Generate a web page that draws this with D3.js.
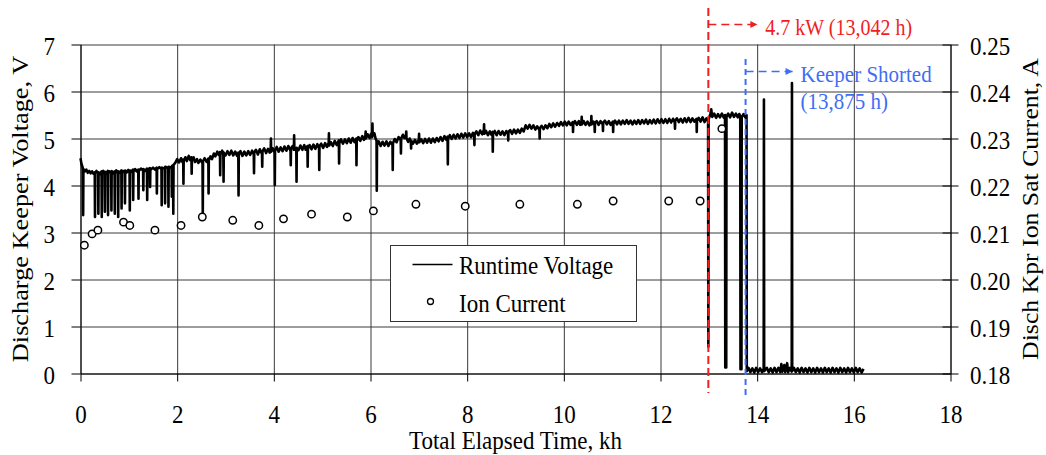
<!DOCTYPE html>
<html>
<head>
<meta charset="utf-8">
<script src="https://cdn.jsdelivr.net/npm/d3@7"></script>
<style>
body { margin: 0; background: #fff; }
text { font-family: "Liberation Serif", "Times New Roman", serif; }
</style>
</head>
<body>
<svg id="chart" width="1046" height="455"></svg>
<script>
"use strict";

/*global d3*/

// ---- data ----
var timeTicks = [0, 2, 4, 6, 8, 10, 12, 14, 16, 18],
    voltTicks = [0, 1, 2, 3, 4, 5, 6, 7],
    currentTicks = [0.18, 0.19, 0.20, 0.21, 0.22, 0.23, 0.24, 0.25];

// runtime keeper voltage, [kh, V]
var runtimeVoltage = [
    [0.00,4.58],[0.02,4.46],[0.04,4.40],[0.05,4.36],[0.055,3.37],[0.06,4.35],[0.09,4.30],[0.12,4.34],
    [0.15,4.27],[0.18,4.31],[0.21,4.26],[0.24,4.30],[0.27,4.25],[0.295,4.28],[0.30,3.33],[0.305,4.27],
    [0.33,4.31],[0.365,4.26],[0.37,3.40],[0.375,4.28],[0.40,4.24],[0.435,4.30],[0.44,3.33],[0.445,4.26],
    [0.47,4.31],[0.50,4.25],[0.505,3.44],[0.51,4.29],[0.54,4.26],[0.565,4.31],[0.57,3.37],[0.575,4.25],
    [0.60,4.30],[0.635,4.27],[0.64,3.47],[0.645,4.31],[0.67,4.26],[0.705,4.30],[0.71,3.40],[0.715,4.27],
    [0.74,4.32],[0.775,4.26],[0.78,3.33],[0.785,4.30],[0.81,4.27],[0.845,4.32],[0.85,3.51],[0.855,4.28],
    [0.88,4.31],[0.915,4.27],[0.92,3.62],[0.925,4.32],[0.96,4.28],[0.99,4.33],[1.015,4.29],[1.02,3.47],
    [1.025,4.32],[1.05,4.29],[1.085,4.34],[1.09,3.69],[1.095,4.30],[1.13,4.35],[1.16,4.30],[1.195,4.34],
    [1.20,3.72],[1.205,4.31],[1.25,4.36],[1.295,4.32],[1.30,3.90],[1.305,4.35],[1.34,4.31],[1.375,4.36],
    [1.38,3.69],[1.385,4.33],[1.435,4.37],[1.44,3.97],[1.445,4.33],[1.50,4.38],[1.54,4.34],[1.575,4.38],
    [1.58,3.83],[1.585,4.35],[1.63,4.39],[1.675,4.35],[1.68,3.58],[1.685,4.38],[1.745,4.36],[1.75,3.62],
    [1.755,4.40],[1.815,4.37],[1.82,3.55],[1.825,4.40],[1.885,4.38],[1.89,3.76],[1.895,4.42],[1.915,4.40],
    [1.92,3.40],[1.925,4.44],[1.96,4.48],
    [2.00,4.56],[2.04,4.49],[2.08,4.58],[2.11,4.50],[2.125,4.55],[2.13,4.04],[2.135,4.52],[2.17,4.60],
    [2.20,4.52],[2.24,4.63],[2.27,4.54],[2.295,4.60],[2.30,4.25],[2.305,4.56],[2.34,4.60],[2.37,4.50],
    [2.41,4.56],[2.44,4.48],[2.48,4.55],[2.525,4.47],[2.53,3.40],[2.535,4.52],
    [2.57,4.58],[2.61,4.50],[2.645,4.57],[2.65,3.83],[2.655,4.54],[2.69,4.62],[2.72,4.56],[2.76,4.68],
    [2.79,4.62],[2.83,4.72],[2.86,4.65],[2.885,4.71],[2.89,4.22],[2.895,4.66],[2.93,4.74],[2.955,4.66],
    [2.96,4.08],[2.965,4.70],
    [3.00,4.64],[3.04,4.73],[3.08,4.65],[3.12,4.74],[3.16,4.64],[3.20,4.72],[3.24,4.63],[3.265,4.70],
    [3.27,3.79],[3.275,4.66],[3.31,4.73],[3.35,4.63],[3.39,4.72],[3.43,4.64],[3.47,4.73],[3.51,4.65],
    [3.55,4.74],[3.585,4.66],[3.59,4.26],[3.595,4.70],[3.63,4.76],[3.67,4.66],[3.71,4.77],[3.755,4.67],
    [3.76,4.40],[3.765,4.72],[3.80,4.79],[3.84,4.69],[3.88,4.78],[3.915,4.70],[3.935,4.76],[3.94,5.00],
    [3.945,4.72],[3.98,4.79],[4.015,4.70],[4.02,4.01],[4.025,4.74],
    [4.06,4.82],[4.10,4.72],[4.14,4.81],[4.18,4.73],[4.22,4.83],[4.26,4.74],[4.30,4.84],[4.345,4.74],
    [4.35,4.43],[4.355,4.79],[4.39,4.84],[4.415,4.76],[4.42,5.07],[4.425,4.78],[4.465,4.74],[4.47,4.08],
    [4.475,4.80],[4.51,4.75],[4.55,4.85],[4.59,4.76],[4.63,4.86],[4.66,4.76],[4.695,4.84],[4.70,4.40],
    [4.705,4.78],[4.74,4.86],[4.78,4.77],[4.82,4.87],[4.86,4.78],[4.90,4.88],[4.935,4.79],[4.94,4.33],
    [4.945,4.84],[4.98,4.89],
    [5.02,4.80],[5.06,4.90],[5.10,4.82],[5.135,4.91],[5.14,5.11],[5.145,4.85],[5.18,4.92],[5.22,4.84],
    [5.26,4.95],[5.30,4.86],[5.345,4.96],[5.35,4.47],[5.355,4.90],[5.39,4.98],[5.43,4.89],[5.47,4.98],
    [5.51,4.90],[5.55,5.00],[5.59,4.91],[5.63,5.01],[5.67,4.92],[5.705,5.00],[5.71,4.43],[5.715,4.94],
    [5.75,5.03],[5.79,4.95],[5.83,5.05],[5.865,4.97],[5.895,5.06],[5.90,5.15],[5.905,5.00],[5.94,5.09],
    [5.98,5.01],[6.01,5.10],[6.035,5.03],[6.04,5.32],[6.045,5.06],[6.08,5.11],[6.105,5.00],
    [6.125,4.95],[6.13,3.89],[6.135,4.86],[6.17,4.94],[6.21,4.84],[6.25,4.93],[6.29,4.85],[6.33,4.94],
    [6.37,4.84],[6.41,4.93],[6.455,4.86],[6.46,4.33],[6.465,4.90],
    [6.50,4.99],[6.54,4.92],[6.58,5.03],[6.625,4.96],[6.63,4.68],[6.635,5.00],[6.67,5.08],[6.70,5.01],
    [6.735,5.08],[6.74,5.15],[6.745,5.00],[6.78,4.93],[6.81,5.00],[6.835,4.91],[6.84,4.79],[6.845,4.95],
    [6.88,4.89],[6.92,4.97],[6.96,4.89],[7.00,4.98],[7.005,5.10],[7.01,4.92],
    [7.05,4.98],[7.09,4.90],[7.13,4.99],[7.17,4.91],[7.21,5.00],[7.25,4.91],[7.29,5.00],[7.33,4.92],
    [7.37,5.01],[7.41,4.94],[7.45,5.03],[7.49,4.95],
    [7.53,5.05],[7.57,4.97],[7.595,5.04],[7.60,4.45],[7.605,4.99],[7.64,5.07],[7.68,4.99],[7.72,5.08],
    [7.76,5.00],[7.80,5.09],[7.84,5.01],[7.88,5.10],[7.92,5.02],[7.96,5.11],[8.00,5.03],
    [8.04,5.11],[8.08,5.03],[8.12,5.12],[8.145,5.05],[8.15,4.86],[8.155,5.09],[8.19,5.15],[8.23,5.07],
    [8.27,5.17],[8.31,5.09],[8.345,5.18],[8.35,5.30],[8.355,5.10],[8.39,5.16],[8.43,5.07],[8.47,5.15],
    [8.50,5.08],[8.525,5.14],[8.53,4.72],[8.535,5.09],
    [8.57,5.16],[8.61,5.07],[8.65,5.16],[8.69,5.08],[8.73,5.15],[8.77,5.07],[8.81,5.16],[8.845,5.09],
    [8.85,4.96],[8.855,5.14],[8.89,5.18],[8.93,5.10],[8.97,5.19],
    [9.01,5.11],[9.05,5.19],[9.09,5.12],[9.13,5.21],[9.17,5.15],[9.21,5.28],[9.25,5.21],[9.29,5.29],
    [9.33,5.21],[9.37,5.28],[9.41,5.19],[9.45,5.26],[9.495,5.18],[9.50,5.00],[9.505,5.22],
    [9.54,5.27],[9.58,5.20],[9.62,5.28],[9.66,5.22],[9.70,5.31],[9.74,5.24],[9.78,5.32],[9.82,5.25],
    [9.86,5.33],[9.90,5.27],[9.94,5.35],[9.98,5.28],
    [10.02,5.36],[10.06,5.28],[10.10,5.36],[10.14,5.29],[10.185,5.35],[10.19,5.14],[10.195,5.30],[10.23,5.37],
    [10.27,5.29],[10.31,5.37],[10.34,5.29],[10.365,5.35],[10.37,5.46],[10.375,5.30],[10.41,5.37],[10.45,5.29],
    [10.49,5.36],[10.53,5.28],[10.565,5.35],[10.57,5.48],[10.575,5.30],[10.61,5.36],[10.635,5.29],[10.64,5.14],
    [10.645,5.33],[10.68,5.37],[10.72,5.29],[10.76,5.37],[10.805,5.30],[10.81,5.16],[10.815,5.34],[10.85,5.38],
    [10.89,5.30],[10.93,5.37],[10.97,5.29],
    [11.015,5.36],[11.02,5.14],[11.025,5.31],[11.06,5.38],[11.10,5.30],[11.14,5.38],[11.18,5.30],[11.22,5.38],
    [11.26,5.31],[11.30,5.39],[11.34,5.31],[11.38,5.38],[11.42,5.30],[11.46,5.38],
    [11.50,5.31],[11.54,5.39],[11.58,5.31],[11.62,5.39],[11.66,5.32],[11.70,5.40],[11.74,5.31],[11.78,5.39],
    [11.82,5.32],[11.86,5.40],[11.90,5.32],[11.94,5.41],[11.98,5.33],
    [12.02,5.41],[12.06,5.33],[12.10,5.41],[12.14,5.33],[12.18,5.42],[12.22,5.34],[12.26,5.42],[12.295,5.34],
    [12.30,5.21],[12.305,5.38],[12.34,5.43],[12.38,5.35],[12.42,5.42],[12.46,5.34],
    [12.50,5.43],[12.54,5.35],[12.58,5.44],[12.62,5.35],[12.66,5.43],[12.70,5.36],[12.745,5.42],[12.75,5.14],
    [12.755,5.38],[12.79,5.44],[12.83,5.36],[12.87,5.45],[12.91,5.35],[12.95,5.43],[12.985,5.37],[12.99,0.57],
    [12.995,5.40],
    [13.03,5.52],[13.05,5.62],[13.07,5.46],[13.11,5.53],[13.15,5.44],[13.19,5.52],[13.23,5.45],[13.27,5.53],
    [13.31,5.44],[13.335,5.50],[13.34,0.13],[13.36,0.13],[13.365,5.46],[13.40,5.53],[13.44,5.45],[13.48,5.55],
    [13.52,5.46],[13.56,5.53],[13.60,5.45],[13.63,5.52],[13.65,5.47],[13.655,0.09],[13.675,0.09],[13.68,5.46],
    [13.72,5.52],[13.75,5.45],[13.78,5.50],[13.785,0.05],
    [13.82,0.12],[13.86,0.03],[13.90,0.11],[13.94,0.02],[13.98,0.12],[14.02,0.03],[14.06,0.11],[14.10,0.03],
    [14.135,0.10],[14.14,5.83],[14.145,0.05],[14.20,0.12],[14.24,0.03],[14.28,0.11],[14.32,0.02],[14.36,0.12],
    [14.40,0.03],[14.44,0.12],[14.48,0.03],[14.50,0.20],[14.52,0.04],[14.56,0.18],[14.58,0.03],[14.62,0.22],
    [14.64,0.03],[14.68,0.12],[14.715,0.04],[14.72,6.18],[14.725,0.05],[14.76,0.12],[14.80,0.03],[14.84,0.11],
    [14.88,0.02],[14.92,0.12],[14.96,0.03],[15.00,0.11],[15.04,0.02],[15.08,0.12],[15.12,0.03],[15.16,0.11],
    [15.20,0.02],[15.24,0.12],[15.28,0.03],[15.32,0.11],[15.36,0.02],[15.40,0.12],[15.44,0.03],[15.48,0.11],
    [15.52,0.02],[15.56,0.12],[15.60,0.03],[15.64,0.11],[15.68,0.02],[15.72,0.12],[15.76,0.03],[15.80,0.11],
    [15.84,0.02],[15.88,0.12],[15.92,0.03],[15.96,0.11],[16.00,0.02],[16.04,0.12],[16.08,0.03],[16.12,0.11],
    [16.16,0.02],[16.20,0.10]
];

// keeper ion saturation current (right axis)
var ionTime = [0.08, 0.24, 0.36, 0.89, 1.02, 1.54, 2.08, 2.52, 3.15, 3.69, 4.20,
               4.78, 5.52, 6.06, 6.94, 7.96, 9.09, 10.28, 11.02, 12.17, 12.82, 13.27],
    ionCurrent = [0.2073, 0.2097, 0.2105, 0.2122, 0.2115, 0.2105, 0.2115, 0.2133, 0.2126, 0.2115, 0.2129,
                  0.2139, 0.2133, 0.2146, 0.2160, 0.2156, 0.2160, 0.2160, 0.2167, 0.2167, 0.2167, 0.2321];

// events marked with dashed lines
var eventTime = [12.99, 13.76],
    eventLabels = [["4.7 kW (13,042 h)"], ["Keeper Shorted", "(13,875 h)"]],
    eventColours = ["#f01e1e", "#3f6ef5"];

var legendLabels = ["Runtime Voltage", "Ion Current"];

// ---- layout ----
var plotLeft = 80.5,
    plotRight = 950.5,
    plotTop = 44.5,
    plotBottom = 373.5,
    stretch = 1.12,
    tickFont = 23,
    gridColour = "#3a3a3a";

var svg = d3.select("#chart");

var x = d3.scaleLinear().domain([0, 18]).range([plotLeft, plotRight]),
    yV = d3.scaleLinear().domain([0, 7]).range([plotBottom, plotTop]),
    yI = d3.scaleLinear().domain([0.18, 0.25]).range([plotBottom, plotTop]);

var styleText = function(sel, size) {
    sel.attr("font-size", size + "px")
	.attr("fill", "#000");
};

// grid
svg.append("g")
    .attr("transform", "translate(" + plotLeft + ",0)")
    .call(d3.axisLeft(yV).tickValues(voltTicks).tickSize(-(plotRight - plotLeft)).tickFormat(""))
    .call(function(g) {
	g.select(".domain").remove();
	g.selectAll("line").attr("stroke", gridColour);
    });

svg.append("g")
    .attr("transform", "translate(0," + plotBottom + ")")
    .call(d3.axisBottom(x).tickValues(timeTicks).tickSize(-(plotBottom - plotTop)).tickFormat(""))
    .call(function(g) {
	g.select(".domain").remove();
	g.selectAll("line").attr("stroke", gridColour);
    });

// axes
var leftAxis = svg.append("g")
	.attr("transform", "translate(" + plotLeft + ",0)")
	.call(d3.axisLeft(yV).tickValues(voltTicks).tickSize(9).tickSizeOuter(0).tickFormat(d3.format("d")));

leftAxis.selectAll("text")
    .attr("x", 0).attr("y", 0).attr("dy", null)
    .attr("transform", "translate(-25.5,10) scale(1," + stretch + ")")
    .call(styleText, tickFont);

var bottomAxis = svg.append("g")
	.attr("transform", "translate(0," + plotBottom + ")")
	.call(d3.axisBottom(x).tickValues(timeTicks).tickSize(8).tickSizeOuter(0).tickFormat(d3.format("d")));

bottomAxis.selectAll("text")
    .attr("y", 0).attr("dy", null)
    .attr("transform", "translate(0,49.5) scale(1," + stretch + ")")
    .call(styleText, tickFont);

var rightAxis = svg.append("g")
	.attr("transform", "translate(" + plotRight + ",0)")
	.call(d3.axisRight(yI).tickValues(currentTicks).tickSize(8).tickSizeOuter(0).tickFormat(d3.format(".2f")));

rightAxis.selectAll("line").attr("x1", -8);
rightAxis.selectAll("text")
    .attr("x", 0).attr("y", 0).attr("dy", null)
    .attr("transform", "translate(19.5,10) scale(1," + stretch + ")")
    .call(styleText, tickFont);

[leftAxis, bottomAxis, rightAxis].forEach(function(g) {
    g.attr("font-family", null).attr("font-size", null);
    g.selectAll("line, path").attr("stroke", "#000");
});

// axis titles
var title = function(tx, ty, str, size, rotated) {
    svg.append("text")
	.attr("text-anchor", "middle")
	.attr("transform", "translate(" + tx + "," + ty + ") scale(1," + stretch + ")" + (rotated ? " rotate(-90)" : ""))
	.text(str)
	.call(styleText, size);
};

title((plotLeft + plotRight) / 2, 449, "Total Elapsed Time, kh", 23, false);
title(28, (plotTop + plotBottom) / 2, "Discharge Keeper Voltage, V", 23.5, true);
title(1038, (plotTop + plotBottom) / 2, "Disch Kpr Ion Sat Current, A", 23, true);

// runtime voltage trace
var line = d3.line()
	.x(function(d) { return x(d[0]); })
	.y(function(d) { return yV(d[1]); });

svg.append("path")
    .datum(runtimeVoltage)
    .attr("d", line)
    .attr("fill", "none")
    .attr("stroke", "#000")
    .attr("stroke-width", 2.6)
    .attr("stroke-linejoin", "round");

// ion current points
svg.append("g")
    .selectAll("circle")
    .data(d3.zip(ionTime, ionCurrent))
    .enter().append("circle")
    .attr("cx", function(d) { return x(d[0]); })
    .attr("cy", function(d) { return yI(d[1]); })
    .attr("r", 3.7)
    .attr("fill", "#fff")
    .attr("stroke", "#000")
    .attr("stroke-width", 1.5);

// event markers
var defs = svg.append("defs");

eventTime.forEach(function(t, i) {
    var colour = eventColours[i],
	ex = x(t),
	arrowY = i === 0 ? 24.5 : 71.5,
	lineTop = i === 0 ? 8 : 59,
	lineBottom = i === 0 ? 393 : 397,
	textX = i === 0 ? ex + 57 : ex + 55,
	size = i === 0 ? 20 : 21;

    defs.append("marker")
	.attr("id", "head" + i)
	.attr("viewBox", "0 0 10 10")
	.attr("refX", 10).attr("refY", 5)
	.attr("markerUnits", "userSpaceOnUse")
	.attr("markerWidth", 8).attr("markerHeight", 7)
	.attr("orient", "auto")
	.append("path")
	.attr("d", "M0,0L10,5L0,10Z")
	.attr("fill", colour);

    svg.append("line")
	.attr("x1", ex).attr("x2", ex)
	.attr("y1", lineTop).attr("y2", lineBottom)
	.attr("stroke", colour)
	.attr("stroke-width", 2)
	.attr("stroke-dasharray", i === 0 ? "8,4" : "6,4");

    svg.append("line")
	.attr("x1", ex).attr("x2", textX - 8)
	.attr("y1", arrowY).attr("y2", arrowY)
	.attr("stroke", colour)
	.attr("stroke-width", 1.6)
	.attr("stroke-dasharray", "8,5")
	.attr("marker-end", "url(#head" + i + ")");

    eventLabels[i].forEach(function(str, j) {
	svg.append("text")
	    .attr("transform", "translate(" + textX + "," + (arrowY + 10.5 + j * 27) + ") scale(1," + stretch + ")")
	    .attr("font-size", size + "px")
	    .attr("fill", colour)
	    .text(str);
    });
});

// legend
var legend = svg.append("g")
	.attr("transform", "translate(390.5,245.5)");

legend.append("rect")
    .attr("width", 246)
    .attr("height", 76)
    .attr("fill", "#fff")
    .attr("stroke", "#333")
    .attr("stroke-width", 1);

legend.append("line")
    .attr("x1", 22).attr("x2", 62)
    .attr("y1", 19).attr("y2", 19)
    .attr("stroke", "#000")
    .attr("stroke-width", 1.5);

legend.append("circle")
    .attr("cx", 40).attr("cy", 56)
    .attr("r", 3)
    .attr("fill", "#fff")
    .attr("stroke", "#000")
    .attr("stroke-width", 1.3);

legendLabels.forEach(function(str, i) {
    legend.append("text")
	.attr("transform", "translate(68.5," + (28.5 + i * 37.5) + ") scale(1," + stretch + ")")
	.text(str)
	.call(styleText, 23);
});
</script>
</body>
</html>
